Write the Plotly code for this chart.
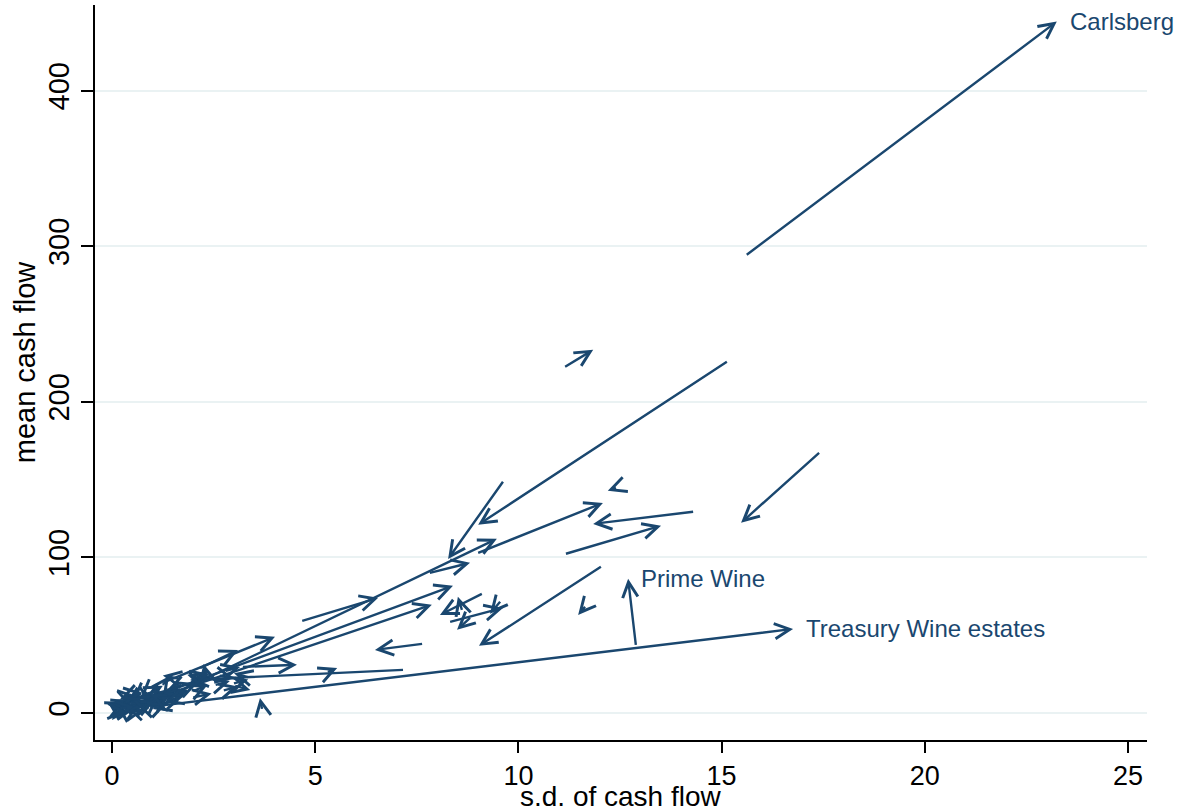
import plotly.graph_objects as go

NAVY = "#1a476f"
FONT = "Liberation Sans, Arial, Helvetica, sans-serif"

# Each arrow: from (sd_start, mean_start) to (sd_end, mean_end)
sd_start = [15.62, 15.13, 9.62, 11.15, 17.40, 12.40, 11.17, 14.30, 9.01, 1.06,
            7.82, 0.94, 12.89, 12.03, 11.64, 7.63, 9.10, 8.32, 8.81, 9.55,
            8.61, 0.94, 0.94, 4.68, 1.30, 3.22, 5.31, 7.16, 3.03, 3.69,
            2.17, 1.62, 0.15,
            0.05, 0.30, 0.20, 0.45, 0.55, 0.65, 0.75, 0.15, 0.90, 0.95,
            1.05, 0.30, 1.30, 0.10, 0.45, 1.15, 0.70, 1.35, 1.70, 1.50,
            1.95, 2.00, 1.25, 1.65, 2.30, 2.30, 2.55, 2.65, 2.75, 1.00,
            2.00, 1.40, 3.00, 3.35, 2.80, 0.85,
            0.20, 0.35, 0.60, 0.80, 0.50, 1.10, 0.25, 0.70, 1.20, 1.50,
            1.80, 2.10, 0.40, 1.55, 0.05]
mean_start = [294.5, 225.7, 148.6, 222.5, 167.2, 144.7, 102.3, 129.3, 102.9, 6.4,
              90.0, 3.9, 43.7, 93.9, 68.2, 44.4, 76.5, 58.5, 61.1, 71.4,
              66.2, 8.4, 9.6, 59.2, 19.9, 29.6, 26.4, 27.7, 17.4, 2.6,
              28.9, 7.7, 0.6,
              4.0, 1.5, 8.0, 2.5, 9.0, 3.5, 10.0, 0.8, 3.0, 6.5,
              12.0, 10.0, 5.0, 3.0, 0.5, 7.0, 12.5, 12.0, 18.0, 11.0,
              20.5, 14.0, 18.0, 22.0, 21.0, 26.0, 18.0, 24.0, 14.5, 14.0,
              10.0, 8.0, 19.0, 23.0, 27.0, 13.5,
              5.5, 6.0, 1.5, 5.0, 12.0, 3.5, 3.0, 7.5, 9.0, 14.0,
              16.0, 23.0, 11.0, 9.0, 1.0]
sd_end = [23.25, 9.01, 8.27, 11.84, 15.48, 12.20, 13.51, 11.84, 12.08, 9.47,
          8.81, 16.76, 12.70, 9.03, 11.47, 6.47, 8.07, 9.62, 8.49, 9.30,
          8.51, 7.87, 8.39, 6.55, 4.01, 4.55, 5.54, 1.92, 3.40, 3.64,
          3.10, 0.89, 0.00,
          0.30, 0.10, 0.50, 0.70, 0.35, 0.95, 1.00, 0.55, 0.60, 1.15,
          0.80, 0.60, 1.00, -0.10, 0.80, 1.40, 0.50, 1.55, 1.35, 1.85,
          2.20, 2.35, 1.40, 1.25, 1.85, 2.25, 2.90, 3.00, 3.10, 1.25,
          2.45, 1.75, 3.35, 3.00, 3.15, 0.70,
          0.45, 0.10, 0.35, 1.05, 0.75, 1.35, 0.55, 0.45, 0.95, 1.25,
          2.10, 2.40, 0.20, 1.30, 0.35]
mean_end = [444.4, 120.9, 99.0, 233.4, 122.2, 142.8, 120.3, 121.5, 135.0, 111.9,
            96.5, 54.0, 86.2, 43.1, 63.0, 40.5, 63.0, 67.5, 53.4, 63.7,
            74.6, 69.5, 81.7, 74.0, 48.9, 30.9, 28.9, 21.2, 14.8, 9.6,
            40.5, 4.5, -4.5,
            7.0, 5.0, 5.0, 6.0, 5.5, 7.0, 6.5, 2.5, 5.5, 10.5,
            8.5, 11.0, 2.5, 6.5, 2.0, 11.0, 8.0, 16.5, 14.5, 14.0,
            17.0, 18.0, 23.5, 24.0, 24.5, 31.5, 20.5, 22.0, 17.0, 17.5,
            12.5, 10.5, 21.5, 25.5, 29.5, 10.0,
            8.0, 8.5, 3.5, 8.0, 13.0, 6.0, 4.0, 9.5, 12.0, 12.0,
            19.0, 25.0, 9.0, 7.0, 0.5]

# labelled firms: (arrow index, name)
label_index = [0, 12, 11]
label_names = ["Carlsberg", "Prime Wine", "Treasury Wine estates"]

x_ticks = [0, 5, 10, 15, 20, 25]
y_ticks = [0, 100, 200, 300, 400]
x_title = "s.d. of cash flow"
y_title = "mean cash flow"

fig = go.Figure()
# invisible trace so axes are created
fig.add_trace(go.Scatter(x=sd_end, y=mean_end, mode="markers",
                         marker=dict(size=1, opacity=0), hoverinfo="skip",
                         showlegend=False))

annotations = []
for x0, y0, x1, y1 in zip(sd_start, mean_start, sd_end, mean_end):
    annotations.append(dict(
        x=x1, y=y1, ax=x0, ay=y0, xref="x", yref="y", axref="x", ayref="y",
        text="", showarrow=True, arrowhead=5, arrowsize=1.25, arrowwidth=2.4,
        arrowcolor=NAVY, font=dict(size=1), borderpad=0, borderwidth=0))

for idx, name in zip(label_index, label_names):
    annotations.append(dict(
        x=sd_end[idx], y=mean_end[idx], xref="x", yref="y", text=name,
        showarrow=False, xanchor="left", yanchor="middle", xshift=11,
        font=dict(size=24, color=NAVY, family=FONT)))

# axis titles
annotations.append(dict(x=0.5, y=-0.0775, xref="paper", yref="paper",
                        text=x_title, showarrow=False, xanchor="center",
                        yanchor="middle", borderpad=0,
                        font=dict(size=28, color="black", family=FONT)))
annotations.append(dict(x=-0.0665, y=0.514, xref="paper", yref="paper",
                        text=y_title, showarrow=False, xanchor="center",
                        yanchor="middle", textangle=-90, borderpad=0,
                        font=dict(size=29, color="black", family=FONT)))

fig.update_layout(
    width=1185, height=812,
    margin=dict(l=95, r=38, t=5, b=72),
    paper_bgcolor="white", plot_bgcolor="white",
    font=dict(family=FONT, color="black"),
    annotations=annotations,
    xaxis=dict(range=[-0.42, 25.47], tickvals=x_ticks, ticks="outside",
               ticklen=11, tickwidth=2, tickcolor="black", showline=True,
               linecolor="black", linewidth=2, showgrid=False, zeroline=False,
               automargin=False, tickfont=dict(size=27, color="black")),
    yaxis=dict(range=[-17.4, 455], tickvals=y_ticks, tickangle=-90,
               ticks="outside", ticklen=12, tickwidth=2, tickcolor="black",
               showline=True, linecolor="black", linewidth=2,
               showgrid=True, gridcolor="#eaf2f3", gridwidth=2, zeroline=False,
               automargin=False, tickfont=dict(size=29, color="black")),
)

fig.write_html("out.html", config={"displayModeBar": False},
               post_script="document.body.style.margin='0';")
